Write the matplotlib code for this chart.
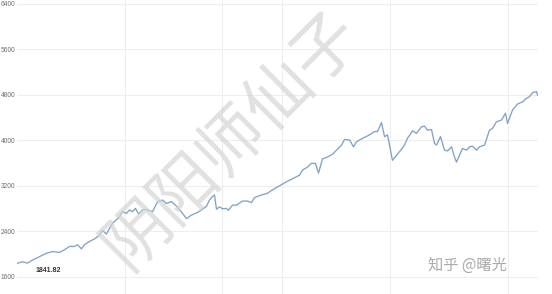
import matplotlib
matplotlib.use("Agg")
import matplotlib.pyplot as plt

# weeks since start, index level
weeks = [0, 5, 10, 15, 19, 22, 29, 35, 42, 47, 52, 57, 60, 64, 67, 72, 77, 82, 85, 89,
         92, 95, 99, 102, 105, 109, 112, 115, 118, 121, 125, 129, 132, 135, 140, 145, 149, 154, 159, 162,
         165, 169, 174, 180, 185, 189, 192, 195, 197, 199, 202, 205, 209, 211, 215, 219, 225, 230, 234, 237,
         244, 250, 255, 262, 269, 275, 282, 285, 290, 294, 298, 301, 305, 310, 315, 320, 324, 327, 332, 336,
         339, 345, 352, 357, 360, 364, 367, 370, 375, 379, 384, 387, 390, 395, 399, 404, 407, 410, 414, 417,
         419, 423, 427, 430, 434, 437, 439, 442, 445, 449, 452, 455, 459, 462, 467, 472, 475, 479, 484, 488,
         490, 495, 500, 505, 509, 512, 515, 519, 520]
values = [1841.82, 1868, 1845, 1898, 1929, 1958, 2018, 2047, 2033, 2078, 2137, 2137, 2167, 2095, 2167, 2226, 2269, 2336, 2417, 2354,
          2456, 2545, 2605, 2664, 2748, 2719, 2779, 2748, 2805, 2707, 2779, 2787, 2766, 2748, 2922, 2952, 2893, 2926, 2845, 2779,
          2719, 2626, 2689, 2734, 2791, 2845, 2952, 3015, 3042, 2791, 2833, 2800, 2804, 2774, 2863, 2863, 2935, 2935, 2908, 2997,
          3042, 3072, 3132, 3203, 3275, 3327, 3390, 3480, 3533, 3599, 3596, 3426, 3677, 3710, 3758, 3847, 3919, 4017, 4009, 3889,
          3978, 4038, 4098, 4157, 4157, 4315, 4068, 4098, 3651, 3740, 3847, 3919, 4039, 4170, 4125, 4240, 4252, 4181, 4193, 3949,
          3919, 4068, 3830, 3817, 3889, 3710, 3620, 3740, 3860, 3830, 3889, 3901, 3830, 3889, 3919, 4181, 4211, 4329, 4359, 4479,
          4300, 4536, 4640, 4680, 4741, 4770, 4841, 4859, 4800]
y_ticks = [1600, 2400, 3200, 4000, 4800, 5600, 6400]
y_labels = ["1600", "2400", "3200", "4000", "4800", "5600", "6400"]
x_grid = [107.5, 204.5, 264.5, 372.5, 490.5]
start_label = "1841.82"
watermark = "阴阳师仙子"
credit = "知乎 @曙光"

W, H = 552, 294
fig = plt.figure(figsize=(W / 100, H / 100), dpi=100)
fig.patch.set_facecolor("white")
ax = fig.add_axes([17 / W, 0, 521 / W, 1])
ax.set_facecolor("white")

ax.set_xlim(-0.5, 520.5)
ax.set_ylim(1301, 6470)
ax.set_yticks(y_ticks)
ax.set_yticklabels(y_labels)
ax.set_xticks(x_grid)
ax.set_xticklabels([])
ax.tick_params(axis="both", length=0)
ax.tick_params(axis="y", pad=1.2, labelsize=4.8, labelcolor="#6e6e6e")
for lab in ax.get_yticklabels():
    lab.set_fontfamily("Liberation Sans")
for s in ax.spines.values():
    s.set_visible(False)
ax.grid(True, color="#eeeeee", linewidth=0.8)
ax.set_axisbelow(True)

ax.plot(weeks, values, color="#82a2c4", linewidth=0.95, zorder=3)

ax.annotate(start_label, xy=(weeks[0], values[0]), xytext=(18, -7), textcoords="offset pixels",
            fontsize=5, color="#333333", fontfamily="Liberation Sans", fontweight="bold",
            ha="left", va="center")

fig.text(232 / W, 1 - 140 / H, watermark, rotation=45, ha="center", va="center",
         fontsize=48, color="#d4d4d4", alpha=0.7, fontweight="light",
         family=["Noto Sans CJK SC", "DejaVu Sans"], zorder=5)
fig.text(467 / W, 1 - 265 / H, credit, ha="center", va="center", fontsize=11,
         color="#aaaaaa", family=["Noto Sans CJK SC", "DejaVu Sans"], zorder=5)

fig.savefig("out.png", dpi=100, facecolor="white")
